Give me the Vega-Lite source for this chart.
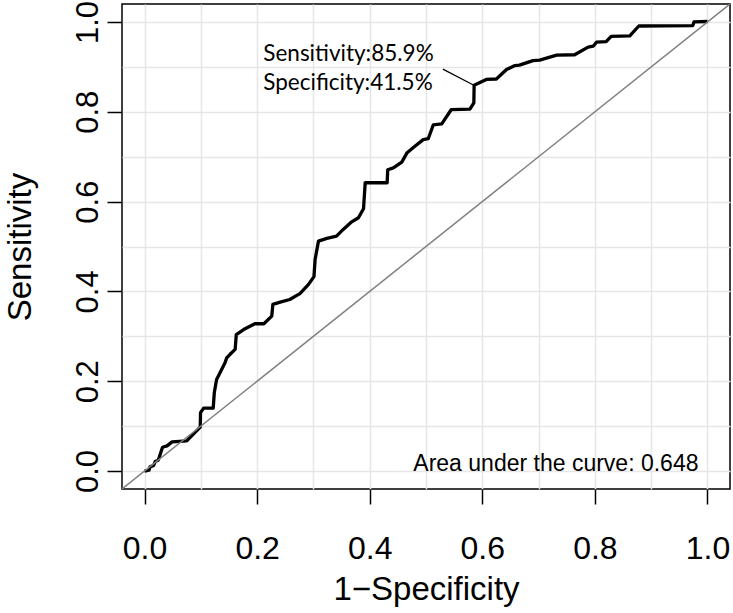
{
  "$schema": "https://vega.github.io/schema/vega-lite/v6.json",
  "width": 608,
  "height": 485,
  "autosize": "none",
  "padding": {"left": 122, "top": 4, "right": 3, "bottom": 124},
  "background": "white",
  "config": {
    "view": {"stroke": "#000000", "strokeWidth": 1.5},
    "axis": {"domain": false, "titleFontWeight": "normal"}
  },
  "datasets": {
    "roc": [
      {"fpr": 0.000, "tpr": 0.000},
      {"fpr": 0.008, "tpr": 0.002},
      {"fpr": 0.010, "tpr": 0.010},
      {"fpr": 0.016, "tpr": 0.012},
      {"fpr": 0.019, "tpr": 0.021},
      {"fpr": 0.024, "tpr": 0.024},
      {"fpr": 0.026, "tpr": 0.030},
      {"fpr": 0.032, "tpr": 0.053},
      {"fpr": 0.040, "tpr": 0.056},
      {"fpr": 0.049, "tpr": 0.065},
      {"fpr": 0.075, "tpr": 0.067},
      {"fpr": 0.099, "tpr": 0.098},
      {"fpr": 0.0995, "tpr": 0.130},
      {"fpr": 0.105, "tpr": 0.140},
      {"fpr": 0.122, "tpr": 0.140},
      {"fpr": 0.124, "tpr": 0.175},
      {"fpr": 0.128, "tpr": 0.204},
      {"fpr": 0.137, "tpr": 0.226},
      {"fpr": 0.143, "tpr": 0.241},
      {"fpr": 0.146, "tpr": 0.252},
      {"fpr": 0.152, "tpr": 0.260},
      {"fpr": 0.161, "tpr": 0.271},
      {"fpr": 0.163, "tpr": 0.304},
      {"fpr": 0.176, "tpr": 0.315},
      {"fpr": 0.196, "tpr": 0.328},
      {"fpr": 0.212, "tpr": 0.328},
      {"fpr": 0.226, "tpr": 0.345},
      {"fpr": 0.228, "tpr": 0.371},
      {"fpr": 0.241, "tpr": 0.376},
      {"fpr": 0.258, "tpr": 0.382},
      {"fpr": 0.276, "tpr": 0.395},
      {"fpr": 0.291, "tpr": 0.415},
      {"fpr": 0.301, "tpr": 0.433},
      {"fpr": 0.303, "tpr": 0.471},
      {"fpr": 0.309, "tpr": 0.512},
      {"fpr": 0.324, "tpr": 0.518},
      {"fpr": 0.341, "tpr": 0.523},
      {"fpr": 0.353, "tpr": 0.538},
      {"fpr": 0.368, "tpr": 0.555},
      {"fpr": 0.380, "tpr": 0.564},
      {"fpr": 0.389, "tpr": 0.584},
      {"fpr": 0.392, "tpr": 0.642},
      {"fpr": 0.431, "tpr": 0.642},
      {"fpr": 0.432, "tpr": 0.671},
      {"fpr": 0.442, "tpr": 0.675},
      {"fpr": 0.457, "tpr": 0.688},
      {"fpr": 0.466, "tpr": 0.708},
      {"fpr": 0.477, "tpr": 0.720},
      {"fpr": 0.495, "tpr": 0.738},
      {"fpr": 0.504, "tpr": 0.740},
      {"fpr": 0.513, "tpr": 0.771},
      {"fpr": 0.528, "tpr": 0.773},
      {"fpr": 0.545, "tpr": 0.805},
      {"fpr": 0.578, "tpr": 0.806},
      {"fpr": 0.585, "tpr": 0.820},
      {"fpr": 0.5855, "tpr": 0.859},
      {"fpr": 0.607, "tpr": 0.872},
      {"fpr": 0.625, "tpr": 0.873},
      {"fpr": 0.643, "tpr": 0.894},
      {"fpr": 0.658, "tpr": 0.903},
      {"fpr": 0.666, "tpr": 0.904},
      {"fpr": 0.690, "tpr": 0.914},
      {"fpr": 0.702, "tpr": 0.915},
      {"fpr": 0.732, "tpr": 0.926},
      {"fpr": 0.764, "tpr": 0.927},
      {"fpr": 0.788, "tpr": 0.944},
      {"fpr": 0.797, "tpr": 0.946},
      {"fpr": 0.803, "tpr": 0.955},
      {"fpr": 0.820, "tpr": 0.956},
      {"fpr": 0.829, "tpr": 0.968},
      {"fpr": 0.862, "tpr": 0.969},
      {"fpr": 0.878, "tpr": 0.991},
      {"fpr": 0.974, "tpr": 0.992},
      {"fpr": 0.976, "tpr": 1.000},
      {"fpr": 1.000, "tpr": 1.001}
    ],
    "diag": [{"x": -0.04, "y": -0.04, "x2": 1.04, "y2": 1.04}],
    "leader": [{"x": 0.530, "y": 0.895, "x2": 0.585, "y2": 0.859}],
    "notes": [
      {"x": 0.211, "y": 0.914, "label": "Sensitivity:85.9%"},
      {"x": 0.211, "y": 0.849, "label": "Specificity:41.5%"}
    ],
    "auc": [{"x": 0.984, "y": 0.0, "label": "Area under the curve: 0.648"}]
  },
  "resolve": {"axis": {"x": "independent", "y": "independent"}},
  "layer": [
    {
      "data": {"name": "roc"},
      "mark": {"type": "line", "color": "#000000", "strokeWidth": 3.3, "strokeJoin": "round", "clip": true},
      "encoding": {
        "x": {
          "field": "fpr", "type": "quantitative",
          "scale": {"domain": [-0.04, 1.04], "nice": false, "zero": false},
          "axis": {"orient": "top", "values": [0, 0.1, 0.2, 0.3, 0.4, 0.5, 0.6, 0.7, 0.8, 0.9, 1.0], "grid": true, "gridColor": "#e6e6e6", "gridWidth": 1.5, "labels": false, "ticks": false, "domain": false, "title": null}
        },
        "y": {
          "field": "tpr", "type": "quantitative",
          "scale": {"domain": [-0.04, 1.04], "nice": false, "zero": false},
          "axis": {"orient": "right", "values": [0, 0.1, 0.2, 0.3, 0.4, 0.5, 0.6, 0.7, 0.8, 0.9, 1.0], "grid": true, "gridColor": "#e6e6e6", "gridWidth": 1.5, "labels": false, "ticks": false, "domain": false, "title": null}
        },
        "order": [{"field": "fpr"}, {"field": "tpr"}]
      }
    },
    {
      "data": {"name": "diag"},
      "mark": {"type": "rule", "color": "#808080", "strokeWidth": 1.5, "clip": true},
      "encoding": {
        "x": {
          "field": "x", "type": "quantitative",
          "axis": {"orient": "bottom", "values": [0, 0.2, 0.4, 0.6, 0.8, 1.0], "format": ".1f", "grid": false, "ticks": true, "tickSize": 15, "tickWidth": 1.5, "tickColor": "#000000", "domain": false,
            "labelFont": "Liberation Sans", "labelFontSize": 32, "labelColor": "#000000", "labelBaseline": "alphabetic", "labelPadding": 54,
            "title": "1\u2212Specificity", "titleFont": "Liberation Sans", "titleFontSize": 33, "titleColor": "#000000", "titlePadding": 9}
        },
        "y": {
          "field": "y", "type": "quantitative",
          "axis": {"orient": "left", "values": [0, 0.2, 0.4, 0.6, 0.8, 1.0], "format": ".1f", "grid": false, "ticks": true, "tickSize": 15, "tickWidth": 1.5, "tickColor": "#000000", "domain": false,
            "labelFont": "Liberation Sans", "labelFontSize": 31, "labelColor": "#000000", "labelAngle": -90, "labelAlign": "center", "labelBaseline": "alphabetic", "labelPadding": 10,
            "title": "Sensitivity", "titleFont": "Liberation Sans", "titleFontSize": 33, "titleColor": "#000000", "titlePadding": 35}
        },
        "x2": {"field": "x2"},
        "y2": {"field": "y2"}
      }
    },
    {
      "data": {"name": "leader"},
      "mark": {"type": "rule", "color": "#000000", "strokeWidth": 1.2},
      "encoding": {
        "x": {"field": "x", "type": "quantitative", "axis": null},
        "y": {"field": "y", "type": "quantitative", "axis": null},
        "x2": {"field": "x2"},
        "y2": {"field": "y2"}
      }
    },
    {
      "data": {"name": "notes"},
      "mark": {"type": "text", "align": "left", "baseline": "alphabetic", "font": "Lato", "fontSize": 22.5, "color": "#000000"},
      "encoding": {
        "x": {"field": "x", "type": "quantitative", "axis": null},
        "y": {"field": "y", "type": "quantitative", "axis": null},
        "text": {"field": "label"}
      }
    },
    {
      "data": {"name": "auc"},
      "mark": {"type": "text", "align": "right", "baseline": "alphabetic", "font": "Liberation Sans", "fontSize": 23, "color": "#000000"},
      "encoding": {
        "x": {"field": "x", "type": "quantitative", "axis": null},
        "y": {"field": "y", "type": "quantitative", "axis": null},
        "text": {"field": "label"}
      }
    }
  ]
}
